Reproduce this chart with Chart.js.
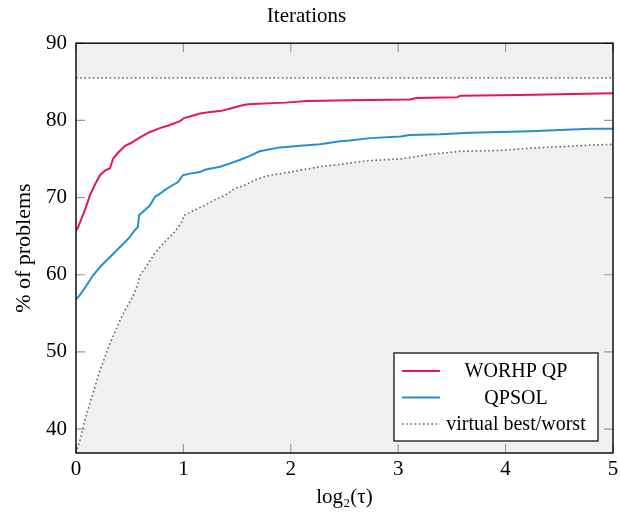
<!DOCTYPE html>
<html>
<head>
<meta charset="utf-8">
<script src="https://cdn.jsdelivr.net/npm/chart.js@4/dist/chart.umd.min.js"></script>
<style>
  html, body { margin: 0; padding: 0; background: #fff; }
  #wrap { width: 620px; height: 517px; }
</style>
</head>
<body>
<div id="wrap"><canvas id="chart" width="620" height="517"></canvas></div>
<script>
// performance profile, iterations
const xTicks = [0, 1, 2, 3, 4, 5];
const yTicks = [40, 50, 60, 70, 80, 90];

const worhpX = [0, 0.019, 0.037, 0.084, 0.13, 0.177, 0.223, 0.27, 0.317, 0.344, 0.391, 0.456, 0.503, 0.596, 0.689, 0.782, 0.875, 0.968, 1.006, 1.06, 1.155, 1.25, 1.34, 1.43, 1.53, 1.6, 1.95, 2.15, 2.55, 3.11, 3.17, 3.55, 3.58, 4.13, 4.51, 5];
const worhpY = [65.7, 66.1, 66.8, 68.4, 70.3, 71.7, 72.9, 73.5, 73.8, 75.0, 75.8, 76.7, 77.0, 77.8, 78.5, 79.0, 79.4, 79.9, 80.3, 80.5, 80.9, 81.1, 81.2, 81.5, 81.9, 82.1, 82.3, 82.5, 82.6, 82.7, 82.9, 83.0, 83.2, 83.3, 83.4, 83.5];

const qpsolX = [0, 0.037, 0.102, 0.158, 0.223, 0.289, 0.317, 0.41, 0.503, 0.549, 0.577, 0.587, 0.642, 0.689, 0.736, 0.782, 0.829, 0.875, 0.95, 0.996, 1.06, 1.155, 1.2, 1.34, 1.43, 1.53, 1.62, 1.71, 1.9, 2.09, 2.27, 2.46, 2.55, 2.74, 3.02, 3.11, 3.39, 3.67, 4.23, 4.79, 5];
const qpsolY = [56.8, 57.4, 58.7, 59.9, 61.0, 61.9, 62.3, 63.6, 64.9, 65.8, 66.2, 67.7, 68.4, 69.0, 70.1, 70.5, 71.0, 71.4, 72.0, 72.9, 73.1, 73.3, 73.6, 74.0, 74.4, 74.9, 75.4, 76.0, 76.5, 76.7, 76.9, 77.3, 77.4, 77.7, 77.9, 78.1, 78.2, 78.4, 78.6, 78.9, 78.9];

const worstX = [0, 0.009, 0.037, 0.084, 0.13, 0.177, 0.223, 0.27, 0.317, 0.363, 0.41, 0.456, 0.503, 0.549, 0.577, 0.596, 0.642, 0.736, 0.829, 0.922, 0.987, 1.006, 1.108, 1.2, 1.29, 1.39, 1.48, 1.57, 1.67, 1.81, 1.99, 2.27, 2.46, 2.74, 3.02, 3.16, 3.3, 3.58, 3.95, 4.23, 4.51, 4.79, 5];
const worstY = [36.9, 37.3, 38.6, 41.2, 43.4, 45.5, 47.6, 49.4, 51.1, 52.6, 54.1, 55.4, 56.5, 57.8, 58.9, 59.9, 60.8, 62.8, 64.3, 65.6, 66.9, 67.7, 68.4, 69.0, 69.7, 70.3, 71.2, 71.6, 72.3, 72.9, 73.3, 74.0, 74.3, 74.8, 75.0, 75.3, 75.6, 76.0, 76.1, 76.4, 76.6, 76.8, 76.9];

const bestX = [0, 5];
const bestY = [85.5, 85.5];

const SERIF = '"Liberation Serif", "DejaVu Serif", serif';
const RED = '#e5194f';
const BLUE = '#2490d0';
const DOT = '#666666';
const SHADE = '#f0f0f0';

const pts = (xs, ys) => xs.map((x, i) => ({ x: x, y: ys[i] }));

// inward ticks + black frame, pgfplots style
const framePlugin = {
  id: 'frame',
  afterDatasetsDraw(chart) {
    const { ctx, chartArea: a, scales } = chart;
    const len = 9;
    ctx.save();
    ctx.strokeStyle = '#999';
    ctx.lineWidth = 1.2;
    ctx.beginPath();
    xTicks.forEach((v) => {
      const px = scales.x.getPixelForValue(v);
      ctx.moveTo(px, a.bottom); ctx.lineTo(px, a.bottom - len);
      ctx.moveTo(px, a.top); ctx.lineTo(px, a.top + len);
    });
    yTicks.forEach((v) => {
      const py = scales.y.getPixelForValue(v);
      ctx.moveTo(a.left, py); ctx.lineTo(a.left + len, py);
      ctx.moveTo(a.right, py); ctx.lineTo(a.right - len, py);
    });
    ctx.stroke();
    ctx.strokeStyle = '#000';
    ctx.lineWidth = 1.4;
    ctx.strokeRect(a.left, a.top, a.right - a.left, a.bottom - a.top);
    ctx.restore();
  },
  afterDraw(chart) {
    const { ctx, chartArea: a } = chart;
    const entries = chart.data.datasets.filter((d) => d.inLegend);
    const w = 204, h = 88;
    const bx = a.right - 15 - w, by = a.bottom - 12 - h;
    ctx.save();
    ctx.fillStyle = '#fff';
    ctx.fillRect(bx, by, w, h);
    ctx.strokeStyle = '#000';
    ctx.lineWidth = 1.2;
    ctx.strokeRect(bx, by, w, h);
    ctx.font = '20px ' + SERIF;
    ctx.textAlign = 'center';
    ctx.textBaseline = 'middle';
    entries.forEach((d, i) => {
      const cy = by + 18 + i * 26.5;
      ctx.beginPath();
      ctx.strokeStyle = d.borderColor;
      ctx.lineWidth = d.borderWidth;
      ctx.setLineDash(d.borderDash || []);
      ctx.moveTo(bx + 8, cy);
      ctx.lineTo(bx + 46, cy);
      ctx.stroke();
      ctx.setLineDash([]);
      ctx.fillStyle = '#000';
      ctx.fillText(d.label, bx + 122, cy + 1);
    });
    ctx.restore();
  }
};

new Chart(document.getElementById('chart'), {
  type: 'line',
  data: {
    datasets: [
      {
        label: 'WORHP QP',
        data: pts(worhpX, worhpY),
        borderColor: RED,
        borderWidth: 2,
        fill: false,
        inLegend: true,
      },
      {
        label: 'QPSOL',
        data: pts(qpsolX, qpsolY),
        borderColor: BLUE,
        borderWidth: 2,
        fill: false,
        inLegend: true,
      },
      {
        label: 'virtual best/worst',
        data: pts(worstX, worstY),
        borderColor: DOT,
        borderWidth: 1.6,
        borderDash: [1.6, 2.6],
        backgroundColor: SHADE,
        fill: 'start',
        inLegend: true,
      },
      {
        label: 'virtual best',
        data: pts(bestX, bestY),
        borderColor: DOT,
        borderWidth: 1.6,
        borderDash: [1.6, 2.6],
        backgroundColor: SHADE,
        fill: 'end',
      },
    ],
  },
  options: {
    responsive: false,
    animation: false,
    layout: { padding: { left: 0, right: 7, top: 0, bottom: 0 } },
    elements: { point: { radius: 0 }, line: { tension: 0 } },
    plugins: {
      legend: { display: false },
      tooltip: { enabled: false },
      title: {
        display: true,
        text: 'Iterations',
        color: '#000',
        font: { family: SERIF, size: 21, weight: 'normal' },
        padding: { top: 4, bottom: 14 },
      },
    },
    scales: {
      x: {
        type: 'linear',
        min: 0,
        max: 5,
        grid: { display: false, drawTicks: false },
        border: { display: false },
        afterBuildTicks: (s) => { s.ticks = xTicks.map((v) => ({ value: v })); },
        afterFit: (s) => { s.height = 64; s.paddingLeft = 0; s.paddingRight = 0; },
        ticks: {
          color: '#000',
          padding: 4,
          maxRotation: 0,
          font: { family: SERIF, size: 21 },
        },
        title: {
          display: true,
          text: 'log₂(τ)',
          color: '#000',
          font: { family: SERIF, size: 21 },
          padding: { top: 0, bottom: 7 },
        },
      },
      y: {
        type: 'linear',
        min: 36.9,
        max: 90,
        grid: { display: false, drawTicks: false },
        border: { display: false },
        afterBuildTicks: (s) => { s.ticks = yTicks.map((v) => ({ value: v })); },
        afterFit: (s) => { s.width = 76; },
        ticks: {
          color: '#000',
          padding: 9,
          font: { family: SERIF, size: 21 },
        },
        title: {
          display: true,
          text: '% of problems',
          color: '#000',
          font: { family: SERIF, size: 22 },
          padding: { top: 11, bottom: 0 },
        },
      },
    },
  },
  plugins: [framePlugin],
});
</script>
</body>
</html>
